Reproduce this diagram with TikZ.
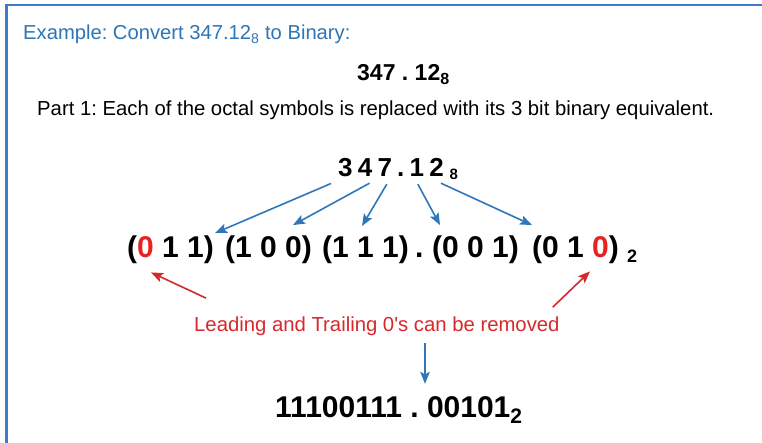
\documentclass[tikz,border=0pt]{standalone}
\usepackage{fontspec}
\setmainfont{Liberation Sans}
\usetikzlibrary{arrows.meta,calc}
\definecolor{frameblue}{HTML}{3D7CC9}
\definecolor{titleblue}{HTML}{2E75B6}
\definecolor{arrowblue}{HTML}{2F77BA}
\definecolor{zred}{HTML}{E8231F}
\definecolor{txtred}{HTML}{D8282C}
\frenchspacing
\begin{document}
\begin{tikzpicture}[x=1pt,y=-1pt,
  txt/.style={inner sep=0pt, anchor=base west},
  bigb/.style={txt, font=\fontsize{30}{30}\selectfont\bfseries},
  topb/.style={txt, font=\fontsize{26}{26}\selectfont\bfseries},
  subb/.style={txt, font=\fontsize{18}{18}\selectfont\bfseries},
  barrow/.style={draw=arrowblue, line width=1.6pt, -{Stealth[length=12pt,width=9.5pt,inset=2.5pt]}},
  rarrow/.style={draw=txtred, line width=1.6pt, -{Stealth[length=12pt,width=9.5pt,inset=2.5pt]}}]
\useasboundingbox (0,0) rectangle (762,443);
\fill[white] (0,0) rectangle (762,443);
\draw[frameblue, line width=2.6pt] (6.5,443) -- (6.5,5) -- (762,5);
% texts
\node[txt, font=\fontsize{20.2}{20.2}\selectfont, text=titleblue] (title) at (23,40) {Example: Convert 347.12\textsubscript{8} to Binary:};
\node[txt, font=\fontsize{23}{23}\selectfont\bfseries] (head) at (357,81) {347 . 12\textsubscript{8}};
\node[txt, font=\fontsize{20.3}{20.3}\selectfont] (part) at (37,116) {Part 1: Each of the octal symbols is replaced with its 3 bit binary equivalent.};
% top row digits
\node[topb] (t3) at (338,177) {3};
\node[topb] (t4) at ($(t3.base east)+(4.8,0)$) {4};
\node[topb] (t7) at ($(t4.base east)+(4.8,0)$) {7};
\node[topb] (tdot) at ($(t7.base east)+(4.8,0)$) {.};
\node[topb] (t1) at ($(tdot.base east)+(4.8,0)$) {1};
\node[topb] (t2) at ($(t1.base east)+(4.8,0)$) {2};
\node[txt, font=\fontsize{15}{15}\selectfont\bfseries] (t8) at ($(t2.base east)+(5.5,3)$) {8};
% row of groups
\node[bigb] (g1) at (127,258) {(\textcolor{zred}{0} 1 1)};
\node[bigb] (g2) at (225,258) {(1 0 0)};
\node[bigb] (g3) at (322,258) {(1 1 1)};
\node[bigb] (gdot) at (415,258) {.};
\node[bigb] (g4) at (432,258) {(0 0 1)};
\node[bigb] (g5) at (532,258) {(0 1 \textcolor{zred}{0})};
\node[subb] (gsub) at (627,263) {2};
% note and result
\node[txt, font=\fontsize{20.3}{20.3}\selectfont, text=txtred] (note) at (194,331) {Leading and Trailing 0\textquotesingle s can be removed};
\node[bigb] (final) at (275,417) {11100111 . 00101\textsubscript{2}};
% blue arrows
\draw[barrow] ($(t3.south west)+(-7,6)$) -- ($(g1.north east)+(1,-3)$);
\draw[barrow] ($(t4.south east)+(-3,6)$) -- ($(g2.north west)+(68,-11)$);
\draw[barrow] ($(t7.south)+(2,7)$) -- ($(g3.north west)+(40,-10)$);
\draw[barrow] ($(t1.south)+(1,7)$) -- ($(g4.north west)+(8,-11)$);
\draw[barrow] ($(t2.south east)+(-3,6)$) -- ($(g5.north west)+(0,-11)$);
% red arrows
\draw[rarrow] ($(note.north west)+(12,-18)$) -- ($(g1.south west)+(24,8)$);
\draw[rarrow] ($(note.north east)+(-7,-9)$) -- ($(g5.south west)+(58,7)$);
% down arrow
\draw[barrow] ($(note.south west)+(231,8)$) -- ($(final.north west)+(150,-12)$);
\end{tikzpicture}
\end{document}
